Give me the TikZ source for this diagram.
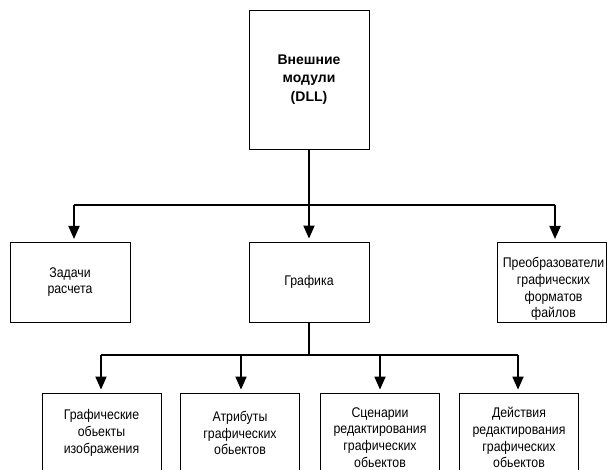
\documentclass[tikz,border=0pt]{standalone}
\usepackage{fontspec}
\setmainfont{Liberation Sans}
\newfontfamily\narrowfont[FakeStretch=0.88]{Liberation Sans}
\usetikzlibrary{arrows.meta}
\tikzset{
  box/.style={draw=black, line width=0.8pt, minimum width=119pt, minimum height=80pt, inner sep=0pt},
  txt/.style={align=center, font=\narrowfont\fontsize{14}{16.8}\selectfont, inner sep=0pt},
  conn/.style={line width=1.8pt, black},
  arr/.style={conn, -{Triangle[width=11pt,length=13pt]}, shorten >=3pt},
}
\begin{document}
\begin{tikzpicture}[x=1pt,y=-1pt]
\useasboundingbox (0,0) rectangle (607,470);
\clip (0,0) rectangle (607,470);
% top
\node[box, minimum width=120pt, minimum height=139pt, align=center,
      font=\fontsize{14}{18.5}\selectfont\bfseries] (dll) at (309,79.5) {Внешние\\модули\\(DLL)};
% middle level
\node[box, minimum width=120pt] (zad) at (70,282) {};
\node[txt] (zadt) at (70,282) {Задачи\\расчета};
\node[box, minimum width=120pt] (graf) at (309.5,282) {};
\node[txt] (graft) at (309,282) {Графика};
\node[box, minimum width=109pt] (pre) at (551.5,282) {};
\node[txt] (pret) at (553.5,289) {Преобразователи\\графических\\форматов\\файлов};
% bottom level
\node[box] (b1) at (101.5,433) {};
\node[txt] (b1t) at (101.5,433) {Графические\\обьекты\\изображения};
\node[box] (b2) at (240,433) {};
\node[txt] (b2t) at (240,433) {Атрибуты\\графических\\обьектов};
\node[box] (b3) at (379.5,433) {};
\node[txt] (b3t) at (380,437.5) {Сценарии\\редактирования\\графических\\обьектов};
\node[box] (b4) at (519,433) {};
\node[txt] (b4t) at (519,437.5) {Действия\\редактирования\\графических\\обьектов};
% connectors top
\coordinate (j1) at (309,205);
\coordinate (j1l) at (74,205);
\coordinate (j1r) at (555,205);
\draw[conn] (dll.south) -- (j1);
\draw[conn] (j1l) -- (j1r);
\draw[arr] (j1l) -- (74,242);
\draw[arr] (j1) -- (graf.north -| j1);
\draw[arr] (j1r) -- (555,242);
% connectors bottom
\coordinate (j2) at (309,355);
\coordinate (j2l) at (101,355);
\coordinate (j2a) at (241,355);
\coordinate (j2b) at (380,355);
\coordinate (j2r) at (518,355);
\draw[conn] (graf.south -| j2) -- (j2);
\draw[conn] (j2l) -- (j2r);
\draw[arr] (j2l) -- (b1.north -| j2l);
\draw[arr] (j2a) -- (b2.north -| j2a);
\draw[arr] (j2b) -- (b3.north -| j2b);
\draw[arr] (j2r) -- (b4.north -| j2r);
\end{tikzpicture}
\end{document}
